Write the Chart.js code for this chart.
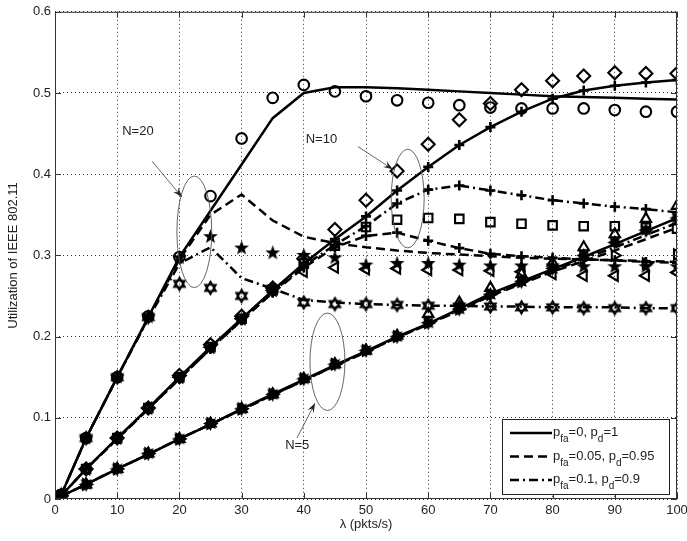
<!DOCTYPE html>
<html><head><meta charset="utf-8">
<script src="https://cdn.jsdelivr.net/npm/chart.js@4"></script>
<style>html,body{margin:0;padding:0;background:#fff}#wrap{width:687px;height:541px;position:relative}</style>
</head><body><div id="wrap"><canvas id="c" width="687" height="541"></canvas></div>
<script>
// ---------------- data ----------------
const lambda = [1,5,10,15,20,25,30,35,40,45,50,55,60,65,70,75,80,85,90,95,100];
const xTicks = [0,10,20,30,40,50,60,70,80,90,100];
const yTicks = [0,0.1,0.2,0.3,0.4,0.5,0.6];

// analytical curves
const thN20_p0   = [0.005,0.075,0.150,0.224,0.298,0.355,0.412,0.469,0.500,0.507,0.507,0.506,0.504,0.502,0.500,0.498,0.496,0.495,0.494,0.493,0.492];
const thN20_p005 = [0.005,0.075,0.150,0.223,0.295,0.350,0.375,0.343,0.323,0.315,0.310,0.306,0.303,0.301,0.299,0.297,0.296,0.295,0.294,0.293,0.292];
const thN20_p01  = [0.005,0.075,0.150,0.222,0.290,0.310,0.272,0.259,0.245,0.242,0.240,0.239,0.238,0.238,0.237,0.237,0.236,0.236,0.236,0.235,0.235];
const thN10_p0   = [0.004,0.037,0.075,0.112,0.150,0.187,0.222,0.257,0.290,0.320,0.348,0.380,0.409,0.436,0.458,0.477,0.493,0.503,0.509,0.513,0.516];
const thN10_p005 = [0.004,0.037,0.074,0.111,0.148,0.185,0.220,0.254,0.285,0.310,0.324,0.328,0.318,0.309,0.302,0.299,0.297,0.295,0.294,0.292,0.291];
const thN10_p01  = [0.004,0.037,0.074,0.111,0.148,0.185,0.220,0.255,0.287,0.313,0.336,0.364,0.381,0.386,0.380,0.374,0.368,0.364,0.360,0.357,0.353];
const thN5_p0    = [0.0035,0.018,0.037,0.055,0.074,0.092,0.111,0.129,0.147,0.165,0.182,0.200,0.216,0.234,0.253,0.268,0.283,0.298,0.314,0.330,0.346];
const thN5_p005  = [0.0035,0.018,0.037,0.055,0.074,0.092,0.110,0.128,0.146,0.164,0.181,0.199,0.215,0.232,0.250,0.265,0.280,0.293,0.306,0.320,0.334];
const thN5_p01   = [0.0035,0.018,0.037,0.055,0.074,0.092,0.110,0.128,0.146,0.164,0.181,0.199,0.215,0.233,0.251,0.266,0.281,0.296,0.310,0.325,0.340];

// simulation points
const simN20_p0   = [0.005,0.075,0.150,0.225,0.298,0.373,0.444,0.494,0.510,0.502,0.496,0.491,0.488,0.485,0.482,0.481,0.481,0.481,0.479,0.477,0.477];
const simN20_p005 = [0.005,0.075,0.150,0.224,0.297,0.323,0.309,0.303,0.300,0.297,0.288,0.290,0.290,0.288,0.287,0.287,0.287,0.286,0.286,0.286,0.286];
const simN20_p01  = [0.005,0.075,0.150,0.224,0.265,0.260,0.250,0.259,0.242,0.240,0.240,0.239,0.238,0.237,0.237,0.236,0.236,0.235,0.235,0.235,0.235];
const simN10_p0   = [0.004,0.037,0.075,0.112,0.152,0.190,0.225,0.260,0.296,0.332,0.368,0.404,0.437,0.467,0.487,0.504,0.515,0.521,0.525,0.524,0.524];
const simN10_p005 = [0.004,0.037,0.075,0.112,0.150,0.187,0.222,0.257,0.290,0.312,0.335,0.344,0.346,0.345,0.341,0.339,0.337,0.336,0.336,0.334,0.333];
const simN10_p01  = [0.004,0.037,0.075,0.112,0.150,0.187,0.222,0.257,0.280,0.285,0.283,0.284,0.282,0.282,0.281,0.280,0.277,0.275,0.275,0.275,0.279];
const simN5_p0    = [0.004,0.018,0.037,0.056,0.074,0.093,0.111,0.129,0.148,0.166,0.183,0.200,0.217,0.234,0.252,0.268,0.284,0.300,0.316,0.331,0.346];
const simN5_p005  = [0.004,0.018,0.037,0.056,0.074,0.093,0.111,0.129,0.148,0.166,0.183,0.201,0.228,0.242,0.260,0.277,0.291,0.310,0.326,0.345,0.361];
const simN5_p01   = [0.004,0.018,0.037,0.056,0.074,0.093,0.111,0.129,0.148,0.166,0.183,0.200,0.217,0.234,0.252,0.268,0.283,0.296,0.300,0.290,0.301];

const legendLabels = [
  [['p',0],['fa',1],['=0, p',0],['d',1],['=1',0]],
  [['p',0],['fa',1],['=0.05, p',0],['d',1],['=0.95',0]],
  [['p',0],['fa',1],['=0.1, p',0],['d',1],['=0.9',0]]
];
const groupLabels = ['N=20','N=10','N=5'];

// ---------------- helpers ----------------
const pts = arr => lambda.map((x,i)=>({x:x,y:arr[i]}));
const SOLID = [], DASH = [9,5], DASHDOT = [9,4,2,4];
const FONT = '"Liberation Sans", Arial, sans-serif';

function mk(size, fn){const c=document.createElement('canvas');c.width=c.height=size;const g=c.getContext('2d');fn(g,size/2);return c;}
function starPath(g,c,ro,ri,n,rot){g.beginPath();for(let i=0;i<2*n;i++){const r=i%2?ri:ro;const a=rot+i*Math.PI/n;const px=c+r*Math.cos(a),py=c+r*Math.sin(a);i?g.lineTo(px,py):g.moveTo(px,py);}g.closePath();}
const star5 = mk(17,(g,c)=>{starPath(g,c,7.8,3.2,5,-Math.PI/2);g.fillStyle='#000';g.fill();});
const hexHollow = mk(17,(g,c)=>{g.strokeStyle='#000';g.lineWidth=1.9;
  for(const rot of [-Math.PI/2,Math.PI/2]){g.beginPath();for(let i=0;i<3;i++){const a=rot+i*2*Math.PI/3;const px=c+6.2*Math.cos(a),py=c+6.2*Math.sin(a);i?g.lineTo(px,py):g.moveTo(px,py);}g.closePath();g.stroke();}});
const burst = mk(17,(g,c)=>{starPath(g,c,7.5,4.5,8,-Math.PI/2);g.fillStyle='#000';g.fill();});

function line(arr,dash,withPlus){
  return {data:pts(arr),showLine:true,borderColor:'#000',backgroundColor:'#000',borderWidth:2.5,borderDash:dash,
    pointStyle:withPlus?'cross':false,pointRadius:withPlus?5:0,pointBorderWidth:2.6,pointBorderColor:'#000',order:2};
}
function marks(arr,style,opts){
  return Object.assign({data:pts(arr),showLine:false,pointStyle:style,pointRadius:5,pointBorderWidth:2.1,
    pointBorderColor:'#000',pointBackgroundColor:'rgba(0,0,0,0)',order:1},opts||{});
}

const datasets = [
  line(thN20_p0,SOLID,false), line(thN20_p005,DASH,false), line(thN20_p01,DASHDOT,false),
  line(thN10_p0,SOLID,true),  line(thN10_p005,DASH,true),  line(thN10_p01,DASHDOT,true),
  line(thN5_p0,SOLID,false),  line(thN5_p005,DASH,false),  line(thN5_p01,DASHDOT,false),
  marks(simN20_p0,'circle',{pointRadius:5.3}),
  marks(simN20_p005,star5),
  marks(simN20_p01,hexHollow),
  marks(simN10_p0,'rectRot',{pointRadius:6.5}),
  marks(simN10_p005,'rect',{pointRadius:6}),
  marks(simN10_p01,'triangle',{pointRadius:6,pointRotation:-90}),
  marks(simN5_p0,burst),
  marks(simN5_p005,'triangle',{pointRadius:6}),
  marks(simN5_p01,'triangle',{pointRadius:6,pointRotation:90})
];

// annotation ellipses/arrows in data units
const annots = [
  {text:groupLabels[0], tx:10.8, ty:0.453, ax0:15.6, ay0:0.416, ax1:20.4, ay1:0.372, cx:22.4, cy:0.329, rx:2.8, ry:0.0687},
  {text:groupLabels[1], tx:40.3, ty:0.443, ax0:48.7, ay0:0.434, ax1:54.3, ay1:0.406, cx:56.7, cy:0.370, rx:2.65, ry:0.0607},
  {text:groupLabels[2], tx:37.0, ty:0.066, ax0:38.9, ay0:0.075, ax1:41.8, ay1:0.118, cx:43.8, cy:0.169, rx:2.81, ry:0.060}
];

const overlay = {
  id:'overlay',
  afterDraw(chart){
    const ctx=chart.ctx, xs=chart.scales.x, ys=chart.scales.y, a=chart.chartArea;
    ctx.save();
    // box + inward ticks
    ctx.strokeStyle='#333'; ctx.lineWidth=1; ctx.setLineDash([]);
    ctx.strokeRect(a.left+0.5,a.top+0.5,a.right-a.left-1,a.bottom-a.top-1);
    ctx.beginPath();
    xTicks.forEach(v=>{const p=Math.round(xs.getPixelForValue(v))+0.5;ctx.moveTo(p,a.bottom);ctx.lineTo(p,a.bottom-6);ctx.moveTo(p,a.top);ctx.lineTo(p,a.top+6);});
    yTicks.forEach(v=>{const p=Math.round(ys.getPixelForValue(v))+0.5;ctx.moveTo(a.left,p);ctx.lineTo(a.left+6,p);ctx.moveTo(a.right,p);ctx.lineTo(a.right-6,p);});
    ctx.stroke();
    // annotations
    annots.forEach(o=>{
      const px=xs.getPixelForValue(o.cx), py=ys.getPixelForValue(o.cy);
      const rx=Math.abs(xs.getPixelForValue(o.cx+o.rx)-px), ry=Math.abs(ys.getPixelForValue(o.cy+o.ry)-py);
      ctx.strokeStyle='#555'; ctx.lineWidth=0.9;
      ctx.beginPath(); ctx.ellipse(px,py,rx,ry,0,0,2*Math.PI); ctx.stroke();
      const x0=xs.getPixelForValue(o.ax0), y0=ys.getPixelForValue(o.ay0), x1=xs.getPixelForValue(o.ax1), y1=ys.getPixelForValue(o.ay1);
      ctx.beginPath(); ctx.moveTo(x0,y0); ctx.lineTo(x1,y1); ctx.stroke();
      const ang=Math.atan2(y1-y0,x1-x0), L=10, W=0.35;
      ctx.fillStyle='#222'; ctx.beginPath(); ctx.moveTo(x1,y1);
      ctx.lineTo(x1-L*Math.cos(ang-W),y1-L*Math.sin(ang-W));
      ctx.lineTo(x1-0.6*L*Math.cos(ang),y1-0.6*L*Math.sin(ang));
      ctx.lineTo(x1-L*Math.cos(ang+W),y1-L*Math.sin(ang+W)); ctx.closePath(); ctx.fill();
      ctx.fillStyle='#222'; ctx.font='13px '+FONT; ctx.textAlign='left'; ctx.textBaseline='middle';
      ctx.fillText(o.text, xs.getPixelForValue(o.tx), ys.getPixelForValue(o.ty));
    });
    // legend
    const bx=a.right-175, by=a.bottom-80, bw=167, bh=75;
    ctx.fillStyle='#fff'; ctx.fillRect(bx,by,bw,bh);
    ctx.strokeStyle='#222'; ctx.lineWidth=1; ctx.strokeRect(bx+0.5,by+0.5,bw,bh);
    const dashes=[SOLID,DASH,DASHDOT];
    legendLabels.forEach((parts,i)=>{
      const yy=by+14+i*23.5;
      ctx.strokeStyle='#000'; ctx.lineWidth=2.5; ctx.setLineDash(dashes[i]);
      ctx.beginPath(); ctx.moveTo(bx+8,yy); ctx.lineTo(bx+50,yy); ctx.stroke(); ctx.setLineDash([]);
      let xx=bx+51; ctx.fillStyle='#222'; ctx.textAlign='left'; ctx.textBaseline='alphabetic';
      parts.forEach(([t,sub])=>{
        ctx.font=(sub?'10px ':'13px ')+FONT;
        ctx.fillText(t,xx,yy+(sub?9:3));
        xx+=ctx.measureText(t).width;
      });
    });
    ctx.restore();
  }
};

new Chart(document.getElementById('c'),{
  type:'scatter',
  data:{datasets},
  options:{
    responsive:false, animation:false, devicePixelRatio:1,
    layout:{padding:{top:10,right:0,left:0,bottom:0}},
    plugins:{legend:{display:false},tooltip:{enabled:false}},
    scales:{
      x:{type:'linear',min:0,max:100,
        afterFit:s=>{s.height=42;s.paddingRight=10;},
        afterBuildTicks:s=>{s.ticks=xTicks.map(v=>({value:v}));},
        grid:{color:'#000',lineWidth:0.8,drawTicks:false},
        border:{display:false,dash:[1,3]},
        ticks:{color:'#222',font:{family:FONT,size:13},padding:4,maxRotation:0},
        title:{display:true,text:'λ (pkts/s)',color:'#222',font:{family:FONT,size:13},padding:{top:0,bottom:9}}
      },
      y:{type:'linear',min:0,max:0.6,
        afterFit:s=>{s.width=55;},
        afterBuildTicks:s=>{s.ticks=yTicks.map(v=>({value:v}));},
        grid:{color:'#000',lineWidth:0.8,drawTicks:false},
        border:{display:false,dash:[1,3]},
        ticks:{color:'#222',font:{family:FONT,size:13},padding:4,callback:v=>String(Math.round(v*10)/10)},
        title:{display:true,text:'Utilization of IEEE 802.11',color:'#222',font:{family:FONT,size:13},padding:{top:6,bottom:0}}
      }
    }
  },
  plugins:[overlay]
});
</script></body></html>
